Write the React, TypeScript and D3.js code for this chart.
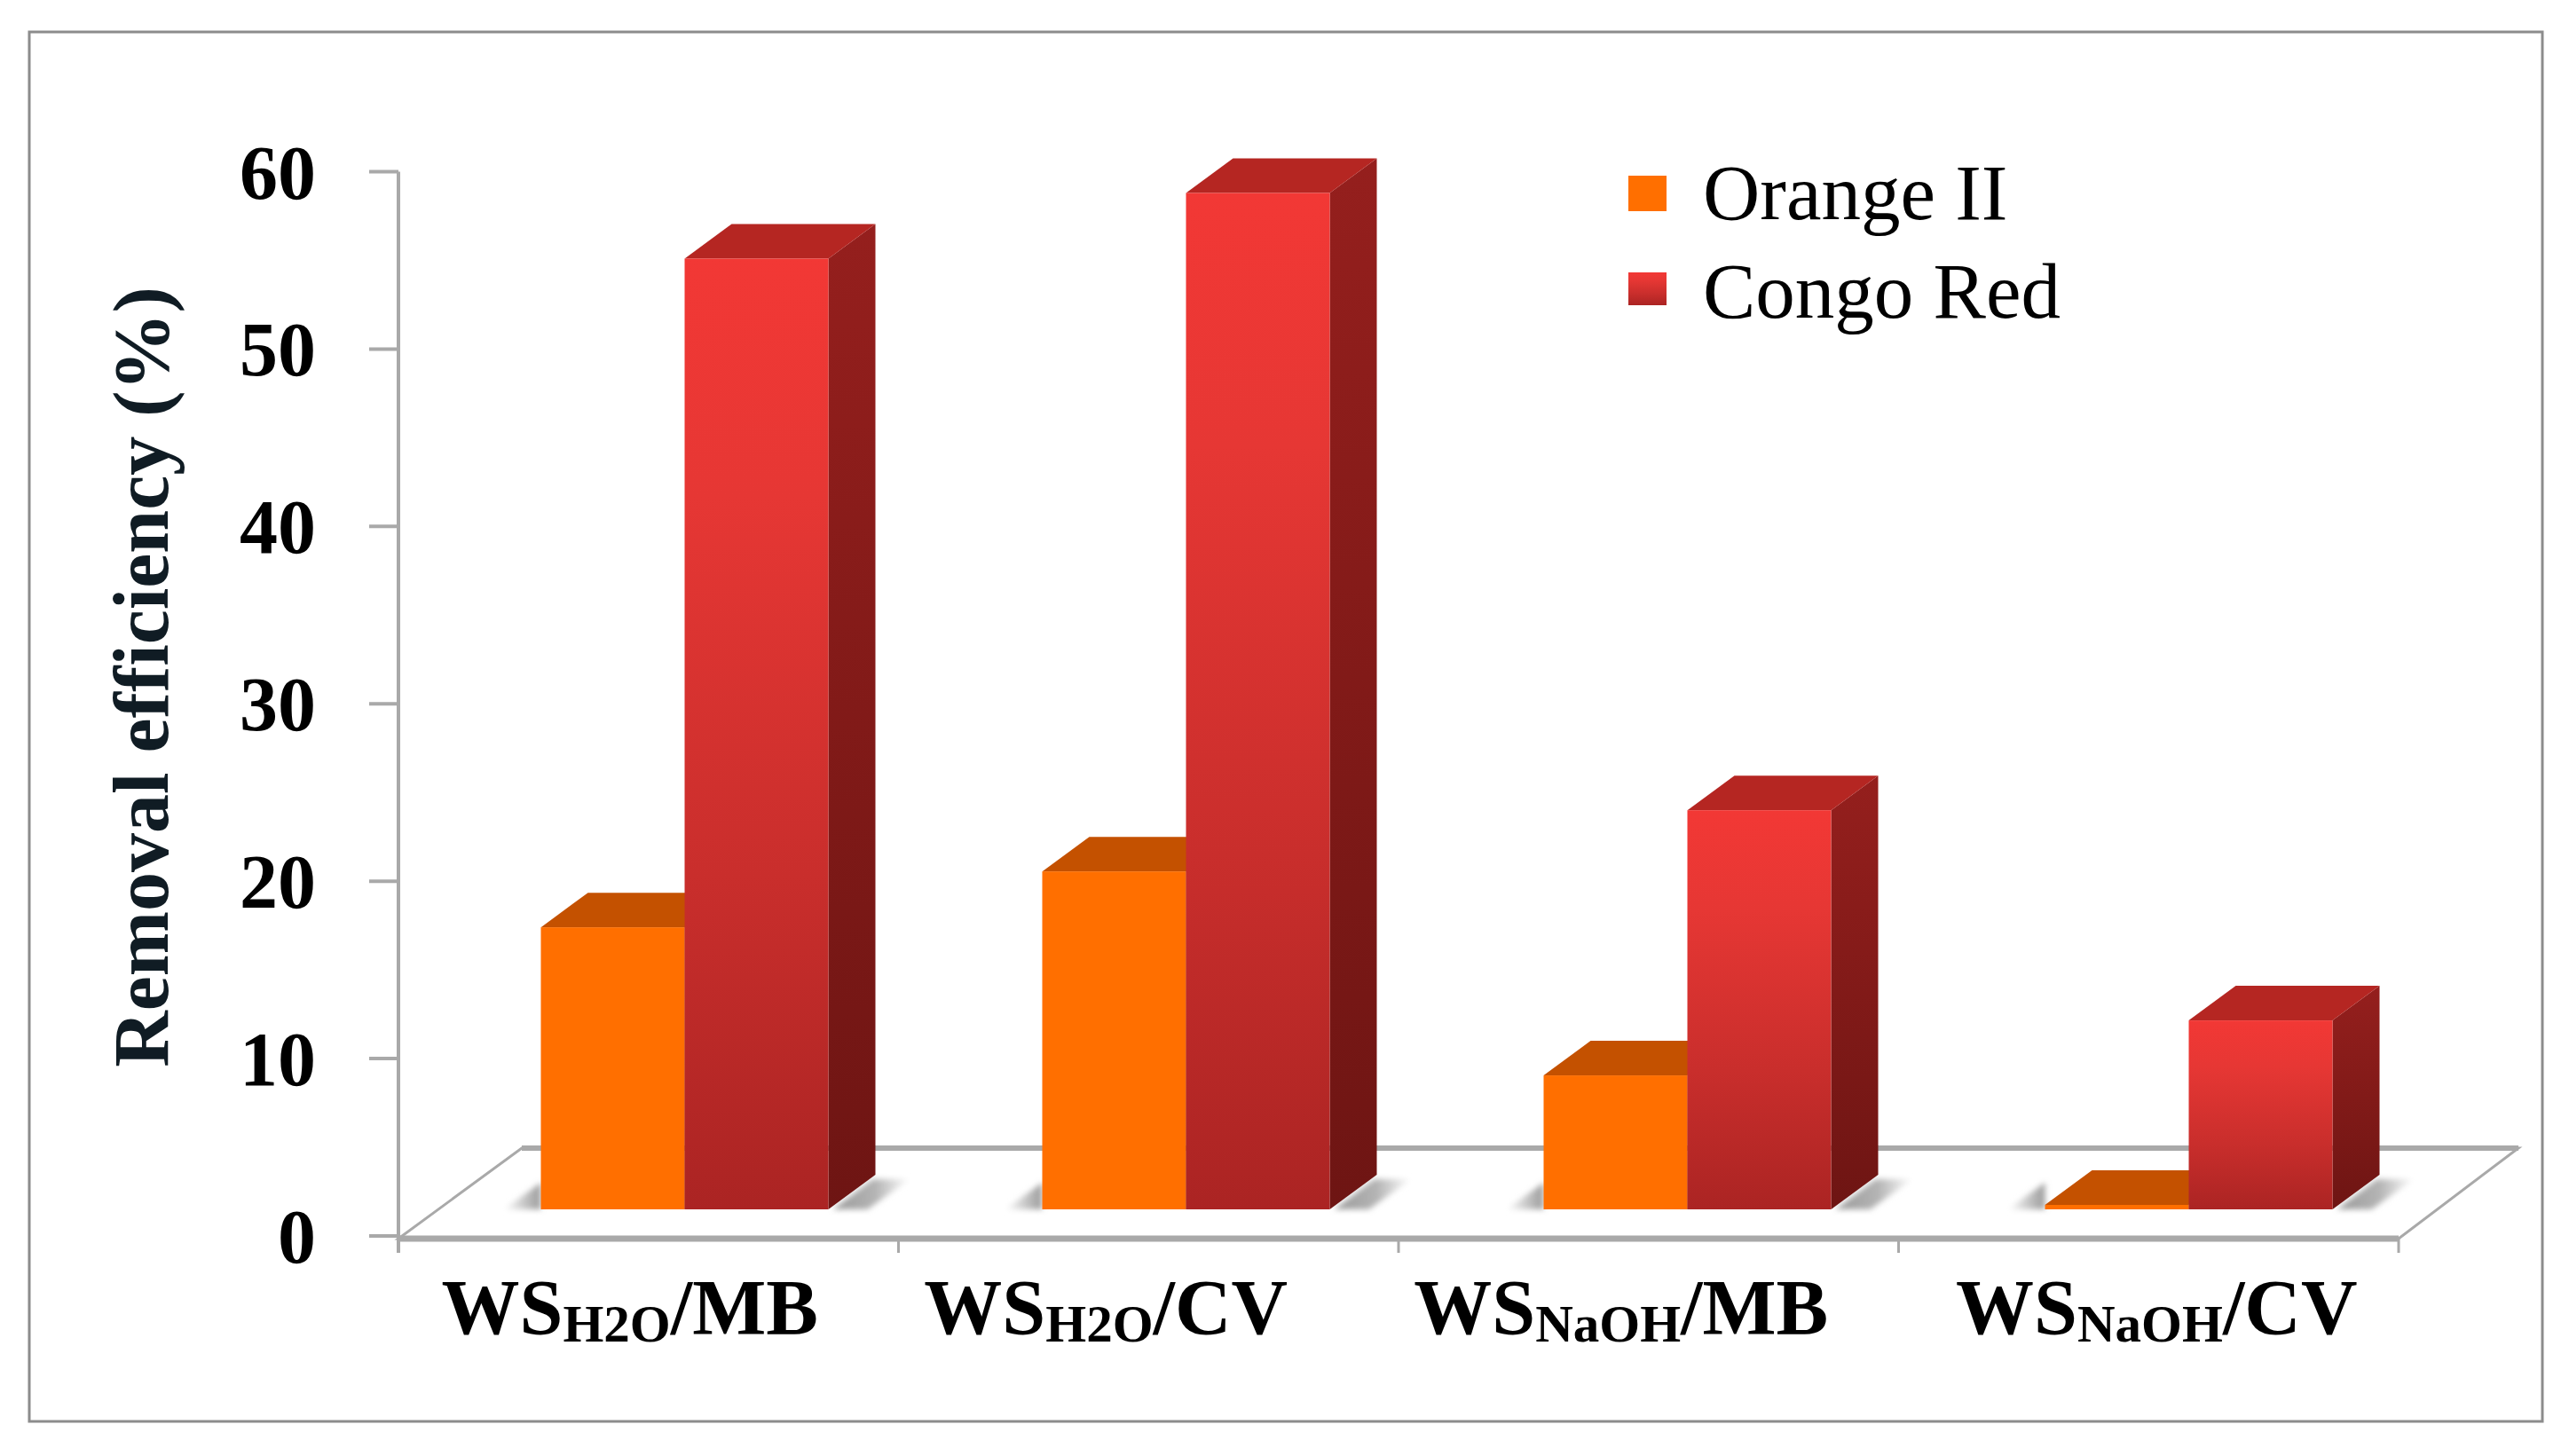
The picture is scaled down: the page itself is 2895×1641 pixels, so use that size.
import * as d3 from "d3";

const categories = ["H2O/MB", "H2O/CV", "NaOH/MB", "NaOH/CV"];
const labelParts = [
    ["WS", "H2O", "/MB"],
    ["WS", "H2O", "/CV"],
    ["WS", "NaOH", "/MB"],
    ["WS", "NaOH", "/CV"],
];
const seriesNames = ["Orange II", "Congo Red"];
const orangeValues = [15.9, 19.05, 7.55, 0.25];
const congoValues = [53.6, 57.3, 22.5, 10.65];
const yTicks = [0, 10, 20, 30, 40, 50, 60];

const width = 2895;
const height = 1641;
const serif = "'Liberation Serif', serif";
const axisGray = "#a9a9a9";

// the 3d look: depth of a bar and how far the bars sit back from the axis plane
const depthX = 53;
const depthY = 39;
const floorLift = 30;

const y = d3.scaleLinear().domain([0, 60]).range([1393, 193.5]);
const xAxis = d3.scaleBand().domain(categories).range([449, 2703]);
const xBars = d3.scaleBand().domain(categories).range([458.5, 2718.5]);
const xSeries = d3.scaleBand().domain(seriesNames).range([151, 475]);
const labelNudge = [-21, -48, -31, 9];

const poly = d3.line();

const Bar3D = ({ x, w, value, front, top, side }) => {
    const base = y(0) - floorLift;
    const t = y(value) - floorLift;
    return (
        <g>
            <path
                d={poly([[x + w, t], [x + w + depthX, t - depthY], [x + w + depthX, base - depthY], [x + w, base]]) + "Z"}
                fill={side}
            />
            <path
                d={poly([[x, t], [x + depthX, t - depthY], [x + w + depthX, t - depthY], [x + w, t]]) + "Z"}
                fill={top}
            />
            <rect x={x} y={t} width={w} height={base - t} fill={front} />
        </g>
    );
};

const App = () => {
    const base = y(0) - floorLift;
    const floorFront = y(0) + 3;
    const floorBack = y(0) - 99;
    const [x0, x1] = xAxis.range();
    const w = xSeries.bandwidth();

    return (
        <svg
            width={width}
            height={height}
            style={{ position: "absolute", left: 0, top: 0, background: "#fff" }}
            fontFamily={serif}
        >
            <defs>
                <linearGradient id="redFront" x1="0" y1="0" x2="0" y2="1">
                    <stop offset="0%" stopColor="#f23835" />
                    <stop offset="25%" stopColor="#e63734" />
                    <stop offset="65%" stopColor="#c92e2c" />
                    <stop offset="100%" stopColor="#ab2423" />
                </linearGradient>
                <linearGradient id="redSide" x1="0" y1="0" x2="0" y2="1">
                    <stop offset="0%" stopColor="#951f1d" />
                    <stop offset="100%" stopColor="#6e1513" />
                </linearGradient>
                <linearGradient id="shadowRight" x1="0" y1="0" x2="1" y2="0">
                    <stop offset="0%" stopColor="#9a9a9a" />
                    <stop offset="55%" stopColor="#b4b4b4" />
                    <stop offset="100%" stopColor="#ffffff" />
                </linearGradient>
                <linearGradient id="shadowLeft" x1="0" y1="0" x2="1" y2="0">
                    <stop offset="0%" stopColor="#ffffff" />
                    <stop offset="100%" stopColor="#9a9a9a" />
                </linearGradient>
                <filter id="soft" x="-20%" y="-20%" width="140%" height="140%">
                    <feGaussianBlur stdDeviation="3" />
                </filter>
            </defs>

            {/* outer frame */}
            <rect x={33} y={36} width={2832} height={1566} fill="#fff" stroke="#8c8c8c" strokeWidth={3} />

            {/* floor */}
            <path
                d={poly([[x0, floorFront], [x0 + 139, floorBack], [x1 + 135, floorBack], [x1, floorFront]]) + "Z"}
                fill="#fff"
                stroke={axisGray}
                strokeWidth={3}
            />
            <line x1={x0 + 139} x2={x1 + 135} y1={floorBack} y2={floorBack} stroke={axisGray} strokeWidth={6} />
            <line x1={x0} x2={x1} y1={floorFront} y2={floorFront} stroke={axisGray} strokeWidth={7} />

            {/* y axis */}
            <line x1={x0} x2={x0} y1={y(60)} y2={floorFront + 16} stroke={axisGray} strokeWidth={4} />
            {yTicks.map((t) => (
                <g key={t}>
                    <line x1={x0 - 33} x2={x0} y1={y(t)} y2={y(t)} stroke={axisGray} strokeWidth={4} />
                    <text x={356} y={y(t) + 30} textAnchor="end" fontSize={86} fontWeight="bold" fill="#000">
                        {t}
                    </text>
                </g>
            ))}

            {/* x axis ticks and labels */}
            {categories.map((c) => (
                <line
                    key={c}
                    x1={xAxis(c) + xAxis.bandwidth()}
                    x2={xAxis(c) + xAxis.bandwidth()}
                    y1={floorFront}
                    y2={floorFront + 16}
                    stroke={axisGray}
                    strokeWidth={3}
                />
            ))}
            {categories.map((c, i) => (
                <text
                    key={c}
                    x={xAxis(c) + xAxis.bandwidth() / 2 + labelNudge[i]}
                    y={1503}
                    textAnchor="middle"
                    fontSize={88}
                    fontWeight="bold"
                    fill="#000"
                >
                    <tspan>{labelParts[i][0]}</tspan>
                    <tspan fontSize={59} dy={9}>{labelParts[i][1]}</tspan>
                    <tspan dy={-9}>{labelParts[i][2]}</tspan>
                </text>
            ))}

            {/* floor shadows */}
            {categories.map((c) => {
                const left = xBars(c) + xSeries(seriesNames[0]);
                const right = xBars(c) + xSeries(seriesNames[1]) + w;
                return (
                    <g key={c} filter="url(#soft)">
                        <path
                            d={poly([[left - 42, base], [left, base], [left, base - 30]]) + "Z"}
                            fill="url(#shadowLeft)"
                        />
                        <path
                            d={poly([[right + 5, base], [right + 50, base - 34], [right + 92, base - 34], [right + 44, base]]) + "Z"}
                            fill="url(#shadowRight)"
                        />
                    </g>
                );
            })}

            {/* bars */}
            {categories.map((c, i) => (
                <g key={c}>
                    <Bar3D
                        x={xBars(c) + xSeries(seriesNames[0])}
                        w={w}
                        value={orangeValues[i]}
                        front="#ff6f00"
                        top="#c45100"
                        side="#a84500"
                    />
                    <Bar3D
                        x={xBars(c) + xSeries(seriesNames[1])}
                        w={w}
                        value={congoValues[i]}
                        front="url(#redFront)"
                        top="#b52622"
                        side="url(#redSide)"
                    />
                </g>
            ))}

            {/* y title */}
            <text
                transform="translate(189,763) rotate(-90)"
                textAnchor="middle"
                fontSize={88}
                fontWeight="bold"
                fill="#101c24"
            >
                Removal efficiency (%)
            </text>

            {/* legend */}
            <rect x={1835} y={198} width={43} height={40} fill="#ff6f00" />
            <rect x={1835} y={307} width={43} height={37} fill="url(#redFront)" />
            <text x={1919} y={247} fontSize={89} fill="#000">{seriesNames[0]}</text>
            <text x={1919} y={358} fontSize={89} fill="#000">{seriesNames[1]}</text>
        </svg>
    );
};

export default App;
